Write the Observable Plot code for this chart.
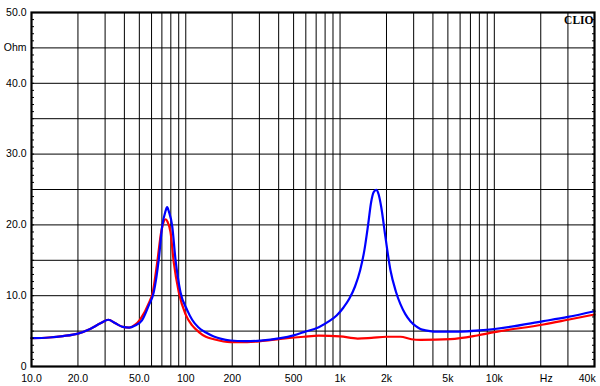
<!DOCTYPE html>
<html><head><meta charset="utf-8">
<script src="https://cdn.jsdelivr.net/npm/d3@7"></script>
<script src="https://cdn.jsdelivr.net/npm/@observablehq/plot@0.6"></script>
<style>body{margin:0;background:#fff;}</style>
</head><body><div id="chart"></div>
<script>
const blueFreq = [10,13,16,20,24,28,31.5,35,39,43,47,52,57.5,62,66.9,70.4,73.6,75.7,77.9,81.6,85.7,92.4,102,110,121,135,152,170,195,240,305,411,500,582,728,850,950,1050,1150,1250,1350,1440,1520,1590,1650,1714,1780,1850,1968,2122,2300,2462,2650,2858,3100,3319,3578,4049,6031,8000,10020,20800,30000,44600];
const blueOhm = [4.0,4.1,4.3,4.65,5.3,6.1,6.6,6.1,5.6,5.5,5.8,6.5,8.6,10.5,15.2,19.9,21.8,22.5,21.8,19.9,15.2,10.5,8.0,6.6,5.5,4.8,4.25,3.9,3.67,3.57,3.65,4.0,4.4,4.85,5.55,6.4,7.2,8.3,9.6,11.3,13.6,16.5,20.0,23.2,24.6,24.95,24.3,22.5,18.3,13.6,10.6,8.8,7.4,6.4,5.7,5.3,5.1,4.94,4.94,5.1,5.3,6.4,7.0,7.8];
const redFreq = [10,13,16,20,24,28,31.5,35,39,43,47,50.8,57.5,61.1,65.3,69.3,71.8,73.9,76.3,79.6,83.6,90.1,99.5,110,121,135,152,195,250,305,411,582,728,1000,1300,1600,2000,2462,2900,3319,5195,7740,10020,20800,30000,44600];
const redOhm = [4.0,4.1,4.3,4.65,5.3,6.1,6.6,6.1,5.6,5.5,5.9,6.7,8.9,10.5,14.7,19.0,20.4,20.8,20.4,19.0,14.7,10.5,7.4,5.8,4.9,4.2,3.85,3.43,3.45,3.57,3.9,4.2,4.35,4.25,3.95,4.05,4.2,4.2,3.85,3.76,3.86,4.38,4.85,5.93,6.6,7.34];
const xGrid = [20,30,40,50,60,70,80,90,100,200,300,400,500,600,700,800,900,1000,2000,3000,4000,5000,6000,7000,8000,9000,10000,20000,30000];
const yGrid = [5,10,15,20,25,30,35,40,45];
const xTickValues = [10,20,50,100,200,500,1000,2000,5000,10000,21700,40000];
const xTickLabels = ["10.0","20.0","50.0","100","200","500","1k","2k","5k","10k","Hz","40k"];
const yTickValues = [0,10,20,30,40,45,50];
const yTickLabels = ["0","10.0","20.0","30.0","40.0","Ohm","50.0"];
const minorY = d3.range(0, 51, 1);

const blue = blueFreq.map((f, i) => ({f, z: blueOhm[i]}));
const red = redFreq.map((f, i) => ({f, z: redOhm[i]}));
const xLabels = xTickValues.map((f, i) => ({f, label: xTickLabels[i]}));

const chart = Plot.plot({
  width: 600,
  height: 386,
  marginLeft: 31,
  marginRight: 6,
  marginTop: 12,
  marginBottom: 20,
  style: {fontFamily: "'Liberation Sans', Arial, sans-serif", fontSize: "10.5px", color: "black", background: "white", overflow: "visible"},
  x: {type: "log", domain: [10, 44600], axis: null},
  y: {domain: [0, 50]},
  marks: [
    Plot.ruleX(xGrid, {stroke: "black", strokeWidth: 1}),
    Plot.ruleY(yGrid, {stroke: "black", strokeWidth: 1}),
    Plot.line(red, {x: "f", y: "z", stroke: "#ff0000", strokeWidth: 2.2, curve: "monotone-x"}),
    Plot.line(blue, {x: "f", y: "z", stroke: "#0000ff", strokeWidth: 2.2, curve: "monotone-x"}),
    Plot.frame({stroke: "black", strokeWidth: 2.2}),
    Plot.axisY(minorY, {anchor: "left", label: null, tickSize: 3, dx: 3, tickFormat: () => "", stroke: "black"}),
    Plot.axisY(minorY, {anchor: "right", label: null, tickSize: 3, dx: -3, tickFormat: () => "", stroke: "black"}),
    Plot.axisY(yTickValues, {anchor: "left", label: null, tickSize: 0, tickPadding: 5, tickFormat: d => yTickLabels[yTickValues.indexOf(d)], fill: "black"}),
    Plot.text(xLabels, {x: "f", text: "label", frameAnchor: "bottom", lineAnchor: "top", dy: 8, fill: "black", fontSize: 10.5}),
    Plot.text(["CLIO"], {frameAnchor: "top-right", text: d => d, dx: -1, dy: 3, lineAnchor: "top", textAnchor: "end", fontFamily: "'Liberation Serif', 'DejaVu Serif', serif", fontWeight: "bold", fontSize: 11.5, fill: "black"})
  ]
});
document.getElementById("chart").append(chart);
</script>
</body></html>
